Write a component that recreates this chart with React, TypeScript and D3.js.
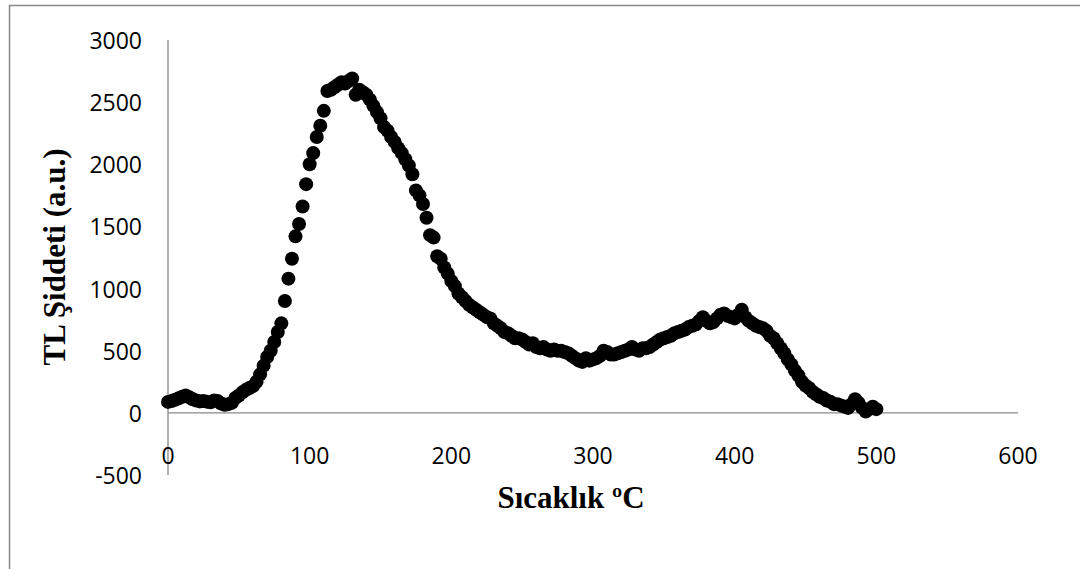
import React from "react";
import * as d3 from "d3";

const temps: number[] = [
  0, 2.5, 5, 7.5, 10, 12.5, 15, 17.5, 20, 22.5, 25, 27.5, 30, 32.5, 35, 37.5, 40, 42.5, 45, 47.5, 50, 52.5, 55, 57.5, 60,
  62.5, 65, 67.5, 70, 72.5, 75, 77.5, 80, 82.5, 85, 87.5, 90, 92.5, 95, 97.5, 100,
  102.5, 105, 107.5, 110, 112.5, 115, 117.5, 120, 122.5, 125, 127.5, 130, 132.5, 135, 137.5, 140,
  142.5, 145, 147.5, 150, 152.5, 155, 157.5, 160, 162.5, 165, 167.5, 170, 172.5, 175, 177.5, 180, 182.5, 185,
  187.5, 190, 192.5, 195, 197.5, 200, 202.5, 205, 207.5, 210, 212.5, 215, 217.5, 220, 222.5, 225, 227.5, 230,
  232.5, 235, 237.5, 240, 242.5, 245, 247.5, 250, 252.5, 255, 257.5, 260, 262.5, 265, 267.5, 270, 272.5, 275, 277.5, 280, 282.5, 285, 287.5, 290, 292.5, 295, 297.5, 300,
  302.5, 305, 307.5, 310, 312.5, 315, 317.5, 320, 322.5, 325, 327.5, 330, 332.5, 335, 337.5, 340, 342.5, 345, 347.5, 350, 352.5, 355, 357.5, 360, 362.5, 365, 367.5, 370, 372.5, 375, 377.5, 380,
  382.5, 385, 387.5, 390, 392.5, 395, 397.5, 400, 402.5, 405, 407.5, 410, 412.5, 415, 417.5, 420,
  422.5, 425, 427.5, 430, 432.5, 435, 437.5, 440, 442.5, 445, 447.5, 450, 452.5, 455, 457.5, 460, 462.5, 465, 467.5, 470, 472.5, 475, 477.5, 480, 482.5, 485, 487.5, 490, 492.5, 495, 497.5, 500,
];

const intensity: number[] = [
  88, 95, 105, 118, 130, 140, 125, 110, 100, 92, 95, 90, 85, 100, 95, 75, 65, 70, 80, 120, 140, 165, 185, 200, 215,
  250, 310, 380, 450, 500, 570, 650, 720, 900, 1080, 1240, 1420, 1520, 1660, 1840, 2000,
  2090, 2220, 2310, 2430, 2590, 2600, 2620, 2640, 2660, 2650, 2670, 2690, 2560, 2600, 2580, 2560,
  2520, 2470, 2420, 2370, 2300, 2270, 2220, 2180, 2130, 2090, 2040, 1990, 1920, 1790, 1750, 1680, 1570, 1430,
  1410, 1260, 1240, 1170, 1120, 1060, 1020, 960, 930, 900, 870, 850, 830, 810, 790, 770, 760, 720,
  700, 680, 650, 640, 620, 600, 600, 590, 570, 550, 560, 530, 520, 530, 510, 500, 510, 500, 500, 490, 480, 460, 440, 420, 410, 440, 420, 430,
  440, 460, 500, 490, 470, 470, 480, 490, 500, 510, 530, 510, 500, 520, 520, 530, 550, 570, 590, 600, 610, 620, 640, 650, 660, 670, 690, 700, 710, 740, 770, 740,
  720, 730, 760, 790, 800, 780, 770, 760, 790, 830, 770, 740, 720, 700, 690, 680,
  660, 620, 600, 560, 520, 480, 430, 390, 340, 300, 250, 220, 200, 170, 150, 130, 120, 100, 90, 70, 70, 60, 50, 40, 70, 110, 80, 40, 10, 30, 50, 30,
];

const xTicks: number[] = [0, 100, 200, 300, 400, 500, 600];
const yTicks: number[] = [-500, 0, 500, 1000, 1500, 2000, 2500, 3000];

const xTitle = "Sıcaklık ºC";
const yTitle = "TL Şiddeti (a.u.)";

export default function App() {
  const W = 1080;
  const H = 569;
  const x = d3.scaleLinear().domain([0, 600]).range([168, 1018]);
  const y = d3.scaleLinear().domain([-500, 3000]).range([475, 40]);
  const axisColor = "#898989";
  const tickFont = "'Open Sans', 'Liberation Sans', sans-serif";
  const titleFont = "'Liberation Serif', 'Times New Roman', serif";
  const points = temps.map((t, i) => [t, intensity[i]] as [number, number]);

  return (
    <svg
      width={W}
      height={H}
      style={{ position: "absolute", left: 0, top: 0, display: "block", background: "#fff" }}
    >
      <rect x={0} y={0} width={W} height={H} fill="#fff" />
      <rect x={9.5} y={5.5} width={1100} height={700} fill="none" stroke={axisColor} strokeWidth={1.5} />
      <line x1={x(0)} x2={x(0)} y1={y(3000)} y2={y(-500)} stroke={axisColor} strokeWidth={1.3} />
      <line x1={x(0)} x2={x(600)} y1={y(0)} y2={y(0)} stroke={axisColor} strokeWidth={1.3} />
      {yTicks.map((v) => (
        <text
          key={"y" + v}
          x={142}
          y={y(v)}
          textAnchor="end"
          dominantBaseline="central"
          fontFamily={tickFont}
          fontSize={23}
          fill="#000"
        >
          {v}
        </text>
      ))}
      {xTicks.map((v) => (
        <text
          key={"x" + v}
          x={x(v)}
          y={455}
          textAnchor="middle"
          dominantBaseline="central"
          fontFamily={tickFont}
          fontSize={23}
          fill="#000"
        >
          {v}
        </text>
      ))}
      {points.map(([t, v], i) => (
        <circle key={i} cx={x(t)} cy={y(v)} r={7} fill="#000" />
      ))}
      <text
        x={571}
        y={508}
        textAnchor="middle"
        fontFamily={titleFont}
        fontWeight="bold"
        fontSize={31}
        fill="#000"
      >
        {xTitle}
      </text>
      <text
        transform={`translate(65,257) rotate(-90)`}
        textAnchor="middle"
        fontFamily={titleFont}
        fontWeight="bold"
        fontSize={31}
        fill="#000"
      >
        {yTitle}
      </text>
    </svg>
  );
}
